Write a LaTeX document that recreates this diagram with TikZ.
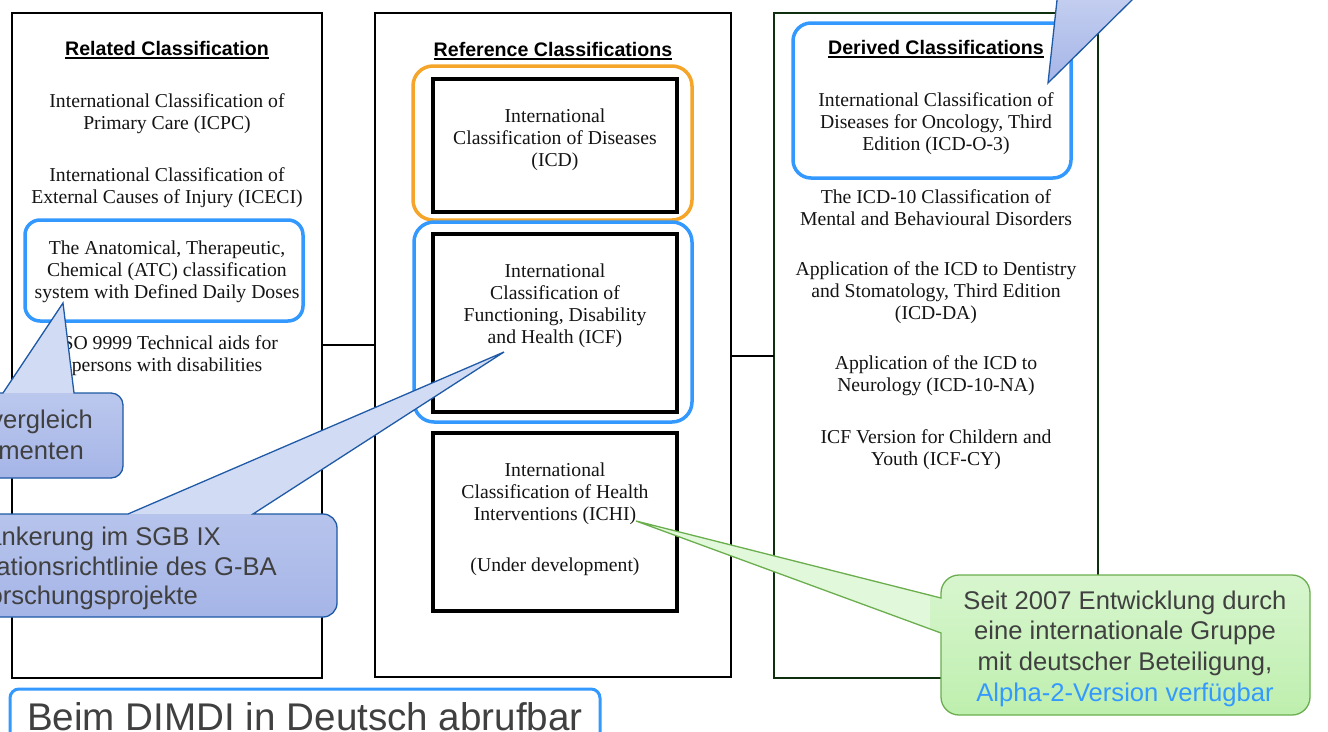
\documentclass[tikz,border=0pt]{standalone}
\usepackage{fontspec}
\setmainfont{Liberation Serif}
\newfontfamily\arialf{Liberation Sans}
\newfontfamily\timesf{Liberation Serif}
\definecolor{hiblue}{HTML}{3399FF}
\definecolor{hiorange}{HTML}{F5A62A}
\definecolor{dergreen}{HTML}{0F300F}
\definecolor{serifgray}{HTML}{141414}
\definecolor{callgray}{HTML}{404040}
\definecolor{cbtop}{HTML}{D2DBF4}
\definecolor{cbtoptwo}{HTML}{C9D3F1}
\definecolor{cbbot}{HTML}{A5B5E7}
\definecolor{cbline}{HTML}{1F5AA6}
\definecolor{cgtop}{HTML}{E2F8DB}
\definecolor{cgbot}{HTML}{BEEFAE}
\definecolor{cgline}{HTML}{6AAE4E}
\newcommand\ulbox[1]{\setbox0\hbox{#1}\rlap{\rule[-3.8pt]{\wd0}{1.8pt}}\box0}
\tikzset{
  colbox/.style={draw=black, line width=2pt, inner sep=0pt, outer sep=0pt},
  innerbox/.style={draw=black, line width=3.2pt, inner sep=0pt, outer sep=0pt},
  hibox/.style={draw=hiblue, line width=3.5pt, rounded corners=15pt, inner sep=0pt, outer sep=0pt},
  serif/.style={font=\timesf\fontsize{19.7}{22}\selectfont, align=center, inner sep=0pt, text=serifgray},
  coltitle/.style={font=\arialf\bfseries\fontsize{19.6}{23}\selectfont, inner sep=0pt, anchor=base},
  calltext/.style={font=\arialf\fontsize{25.6}{30.7}\selectfont, text=callgray, inner sep=0pt},
  conn/.style={draw=black, line width=2pt},
  bluecall/.style={draw=cbline, line width=1.3pt, fill=cbtop, line join=miter},
  greencall/.style={draw=cgline, line width=1.3pt, fill=cgtop, line join=miter},
}
\begin{document}
\begin{tikzpicture}[x=1pt,y=-1pt]
\useasboundingbox (0,0) rectangle (1328,731);
\clip (0,0) rectangle (1328,731);
\fill[white] (0,0) rectangle (1328,731);

% column boxes
\node[colbox, minimum width=310pt, minimum height=665pt] (left) at (167,345.5) {};
\node[colbox, minimum width=356pt, minimum height=664pt] (mid) at (553,345) {};
\node[colbox, draw=dergreen, line width=2.3pt, minimum width=324pt, minimum height=665pt] (der) at (936,345.5) {};

% inner boxes
\node[innerbox, minimum width=244pt, minimum height=133pt] (icdbox) at (555,145.5) {};
\node[innerbox, minimum width=244pt, minimum height=178pt] (icfbox) at (555,323) {};
\node[innerbox, minimum width=244pt, minimum height=178pt] (ichibox) at (555,522) {};

% connectors
\coordinate (c1) at (0,345);
\coordinate (c2) at (0,356);
\draw[conn] (left.east |- c1) -- (mid.west |- c1);
\draw[conn] (mid.east |- c2) -- (der.west |- c2);

% titles
\node[coltitle] (ltitle) at (167,55) {\ulbox{Related Classification}};
\node[coltitle] (mtitle) at (553,56) {\ulbox{Reference Classifications}};
\node[coltitle] (dtitle) at (936,54) {\ulbox{Derived Classifications}};

% left texts
\node[serif] (icpc) at (167,114) {International Classification of\\Primary Care (ICPC)};
\node[serif] (iceci) at (167,187.5) {International Classification of\\External Causes of Injury (ICECI)};
\node[serif] (atc) at (167,271.5) {The Anatomical, Therapeutic,\\Chemical (ATC) classification\\system with Defined Daily Doses};
\node[serif] (iso) at (167,356) {ISO 9999 Technical aids for\\persons with disabilities};

% middle texts
\node[serif] (icdt) at (555,140) {International\\Classification of Diseases\\(ICD)};
\node[serif] (icft) at (555,305.5) {International\\Classification of\\Functioning, Disability\\and Health (ICF)};
\node[serif] (ichit) at (555,493.5) {International\\Classification of Health\\Interventions (ICHI)};
\node[serif] (undev) at (555,567) {(Under development)};

% derived texts
\node[serif] (icdo) at (936,124) {International Classification of\\Diseases for Oncology, Third\\Edition (ICD-O-3)};
\node[serif] (icdten) at (936,208) {The ICD-10 Classification of\\Mental and Behavioural Disorders};
\node[serif] (icdda) at (936,293) {Application of the ICD to Dentistry\\and Stomatology, Third Edition\\(ICD-DA)};
\node[serif] (icdna) at (936,376) {Application of the ICD to\\Neurology (ICD-10-NA)};
\node[serif] (icfcy) at (936,450) {ICF Version for Childern and\\Youth (ICF-CY)};

% highlight frames
\node[hibox, minimum width=278pt, minimum height=101pt] (atchi) at (164,270.5) {};
\node[hibox, draw=hiorange, rounded corners=20pt, minimum width=279pt, minimum height=154pt] (icdhi) at (552.5,143) {};
\node[hibox, rounded corners=20pt, minimum width=278pt, minimum height=200pt] (icfhi) at (553,322) {};
\node[hibox, rounded corners=18pt, minimum width=278pt, minimum height=155pt] (icdohi) at (932,100.5) {};
\node[hibox, line width=3pt, rounded corners=9pt, minimum width=590pt, minimum height=71pt] (dimdibox) at (305,724.5) {};
\node[font=\arialf\fontsize{38.6}{40}\selectfont, text=callgray, inner sep=0pt, anchor=base west] (dimdi) at (27,730) {Beim DIMDI in Deutsch abrufbar};

% callout: ATC
\path[bluecall, path picture={\shade[top color=cbtop, bottom color=cbbot] (-200,393) rectangle (130,478);}]
  (-200,393) -- (3,393) -- (63,303) -- (74,393) -- (111,393)
  .. controls (117.6,393) and (123,398.4) .. (123,405) -- (123,466)
  .. controls (123,472.6) and (117.6,478) .. (111,478) -- (-200,478) -- cycle;
\node[calltext, anchor=base east] (atcl1) at (93,428) {vergleich};
\node[calltext, anchor=base east] (atcl2) at (84,459) {menten};

% callout: ICF
\path[bluecall, path picture={\shade[top color=cbtop, bottom color=cbbot] (-200,514) rectangle (340,617);}]
  (-200,514) -- (128,514) -- (504,352) -- (253,514) -- (323,514)
  .. controls (330.7,514) and (337,520.3) .. (337,528) -- (337,603)
  .. controls (337,610.7) and (330.7,617) .. (323,617) -- (-200,617) -- cycle;
\node[calltext, anchor=base east] (icfl1) at (221,545) {ankerung im SGB IX};
\node[calltext, anchor=base east] (icfl2) at (277,575) {ationsrichtlinie des G-BA};
\node[calltext, anchor=base east] (icfl3) at (198,604) {orschungsprojekte};

% callout: ICD-O-3 (body above the picture)
\path[draw=cbline, line width=1.3pt, line join=miter, top color=cbtoptwo, bottom color=cbbot]
  (1048,83) -- (1059.2,-20) -- (1152.2,-20) -- cycle;

% callout: ICHI
\path[greencall, path picture={\shade[top color=cgtop, bottom color=cgbot] (930,575) rectangle (1320,715);}]
  (959,575) -- (1292,575)
  .. controls (1301.9,575) and (1310,583.1) .. (1310,593) -- (1310,697)
  .. controls (1310,706.9) and (1301.9,715) .. (1292,715) -- (959,715)
  .. controls (949.1,715) and (941,706.9) .. (941,697) -- (941,633)
  -- (636,521) -- (941,598) -- (941,593)
  .. controls (941,583.1) and (949.1,575) .. (959,575) -- cycle;
\node[calltext, align=center] (ichinote) at (1125,648.5) {Seit 2007 Entwicklung durch\\eine internationale Gruppe\\mit deutscher Beteiligung,\\\textcolor{hiblue}{Alpha-2-Version verfügbar}};
\end{tikzpicture}
\end{document}
